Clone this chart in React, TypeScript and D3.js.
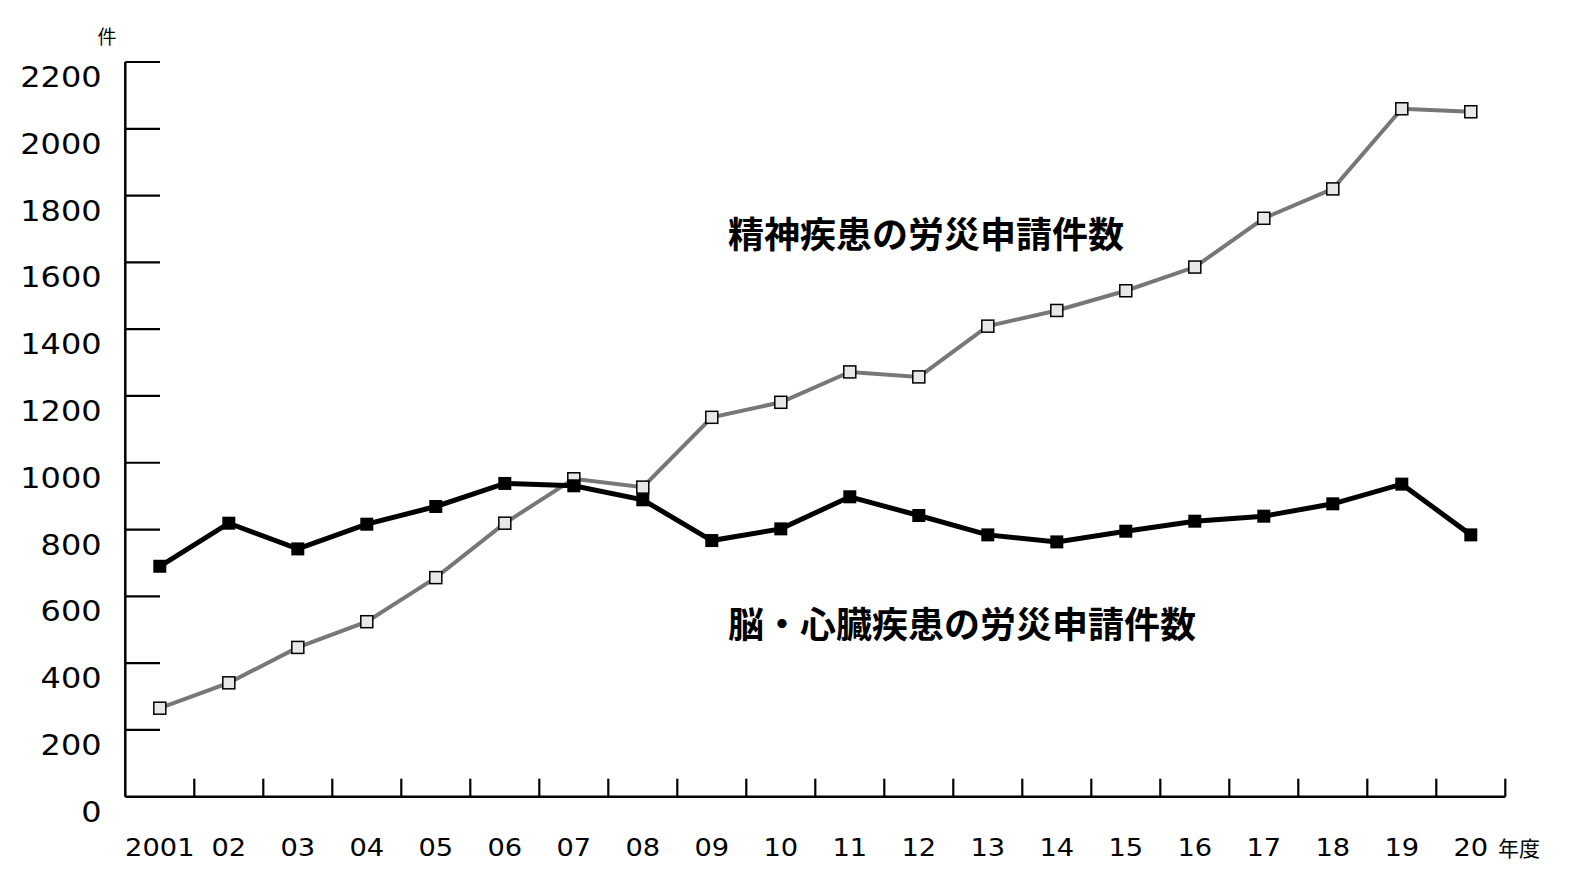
import React from "react";
import * as d3 from "d3";

const years = ["2001","02","03","04","05","06","07","08","09","10","11","12","13","14","15","16","17","18","19","20"];
const mentalClaims = [265,341,447,524,656,819,952,927,1136,1181,1272,1257,1409,1456,1515,1586,1732,1820,2060,2051];
const brainHeartClaims = [690,819,742,816,869,938,931,889,767,802,898,842,784,763,795,825,840,877,936,784];
const yTicks = [0,200,400,600,800,1000,1200,1400,1600,1800,2000,2200];
const mentalLabel = "精神疾患の労災申請件数";
const brainLabel = "脳・心臓疾患の労災申請件数";
const yUnit = "件";
const xUnit = "年度";

const W = 1588, H = 888;
const left = 125.3, right = 1505.3, top = 62, bottom = 796.7;

export default function App() {
  const x = d3.scaleBand<string>().domain(years).range([left, right]).padding(0);
  const y = d3.scaleLinear().domain([0, 2200]).range([bottom, top]);
  const cx = (i: number) => (x(years[i]) as number) + x.bandwidth() / 2;
  const line = d3.line<number>().x((_, i) => cx(i)).y((d) => y(d));
  const numFont = "'DejaVu Sans', sans-serif";
  const jpFont = "'Noto Sans CJK JP', sans-serif";

  return (
    <svg width={W} height={H} style={{ position: "absolute", left: 0, top: 0, background: "#fff" }}>
      {/* y axis */}
      <line x1={left} x2={left} y1={top} y2={bottom} stroke="#000" strokeWidth={2.5} />
      {yTicks.map((t) => (
        <g key={t}>
          {t > 0 && <line x1={left} x2={160} y1={y(t)} y2={y(t)} stroke="#000" strokeWidth={2.2} />}
          <text
            transform={`translate(101.5,${y(t) + 25}) scale(1.14,1)`}
            textAnchor="end"
            fontFamily={numFont}
            fontSize={28}
            fill="#000"
          >
            {t}
          </text>
        </g>
      ))}
      <text x={107} y={35} textAnchor="middle" dominantBaseline="central" fontFamily={jpFont} fontSize={19} fill="#000">
        {yUnit}
      </text>
      {/* x axis */}
      <line x1={left} x2={right} y1={bottom} y2={bottom} stroke="#000" strokeWidth={2.5} />
      {years.map((yr, i) => (
        <g key={yr}>
          <line
            x1={(x(yr) as number) + x.bandwidth()}
            x2={(x(yr) as number) + x.bandwidth()}
            y1={bottom}
            y2={bottom - 18}
            stroke="#000"
            strokeWidth={2.2}
          />
          <text
            transform={`translate(${cx(i)},855.5) scale(1.07,1)`}
            textAnchor="middle"
            fontFamily={numFont}
            fontSize={25.5}
            fill="#000"
          >
            {yr}
          </text>
        </g>
      ))}
      <text x={1498} y={847} dominantBaseline="central" fontFamily={jpFont} fontSize={21} fill="#000">
        {xUnit}
      </text>
      {/* mental series */}
      <path d={line(mentalClaims) as string} fill="none" stroke="#777" strokeWidth={4} />
      {/* brain/heart series */}
      <path d={line(brainHeartClaims) as string} fill="none" stroke="#000" strokeWidth={5} />
      {mentalClaims.map((v, i) => (
        <rect key={"m" + i} x={cx(i) - 6} y={y(v) - 6} width={12} height={12} fill="#e8e8e8" stroke="#000" strokeWidth={1.5} />
      ))}
      {brainHeartClaims.map((v, i) => (
        <rect key={"b" + i} x={cx(i) - 6.5} y={y(v) - 6.5} width={13} height={13} fill="#000" />
      ))}
      <text x={728} y={232} dominantBaseline="central" fontFamily={jpFont} fontWeight={700} fontSize={36} fill="#000">
        {mentalLabel}
      </text>
      <text x={728} y={622} dominantBaseline="central" fontFamily={jpFont} fontWeight={700} fontSize={36} fill="#000">
        {brainLabel}
      </text>
    </svg>
  );
}
